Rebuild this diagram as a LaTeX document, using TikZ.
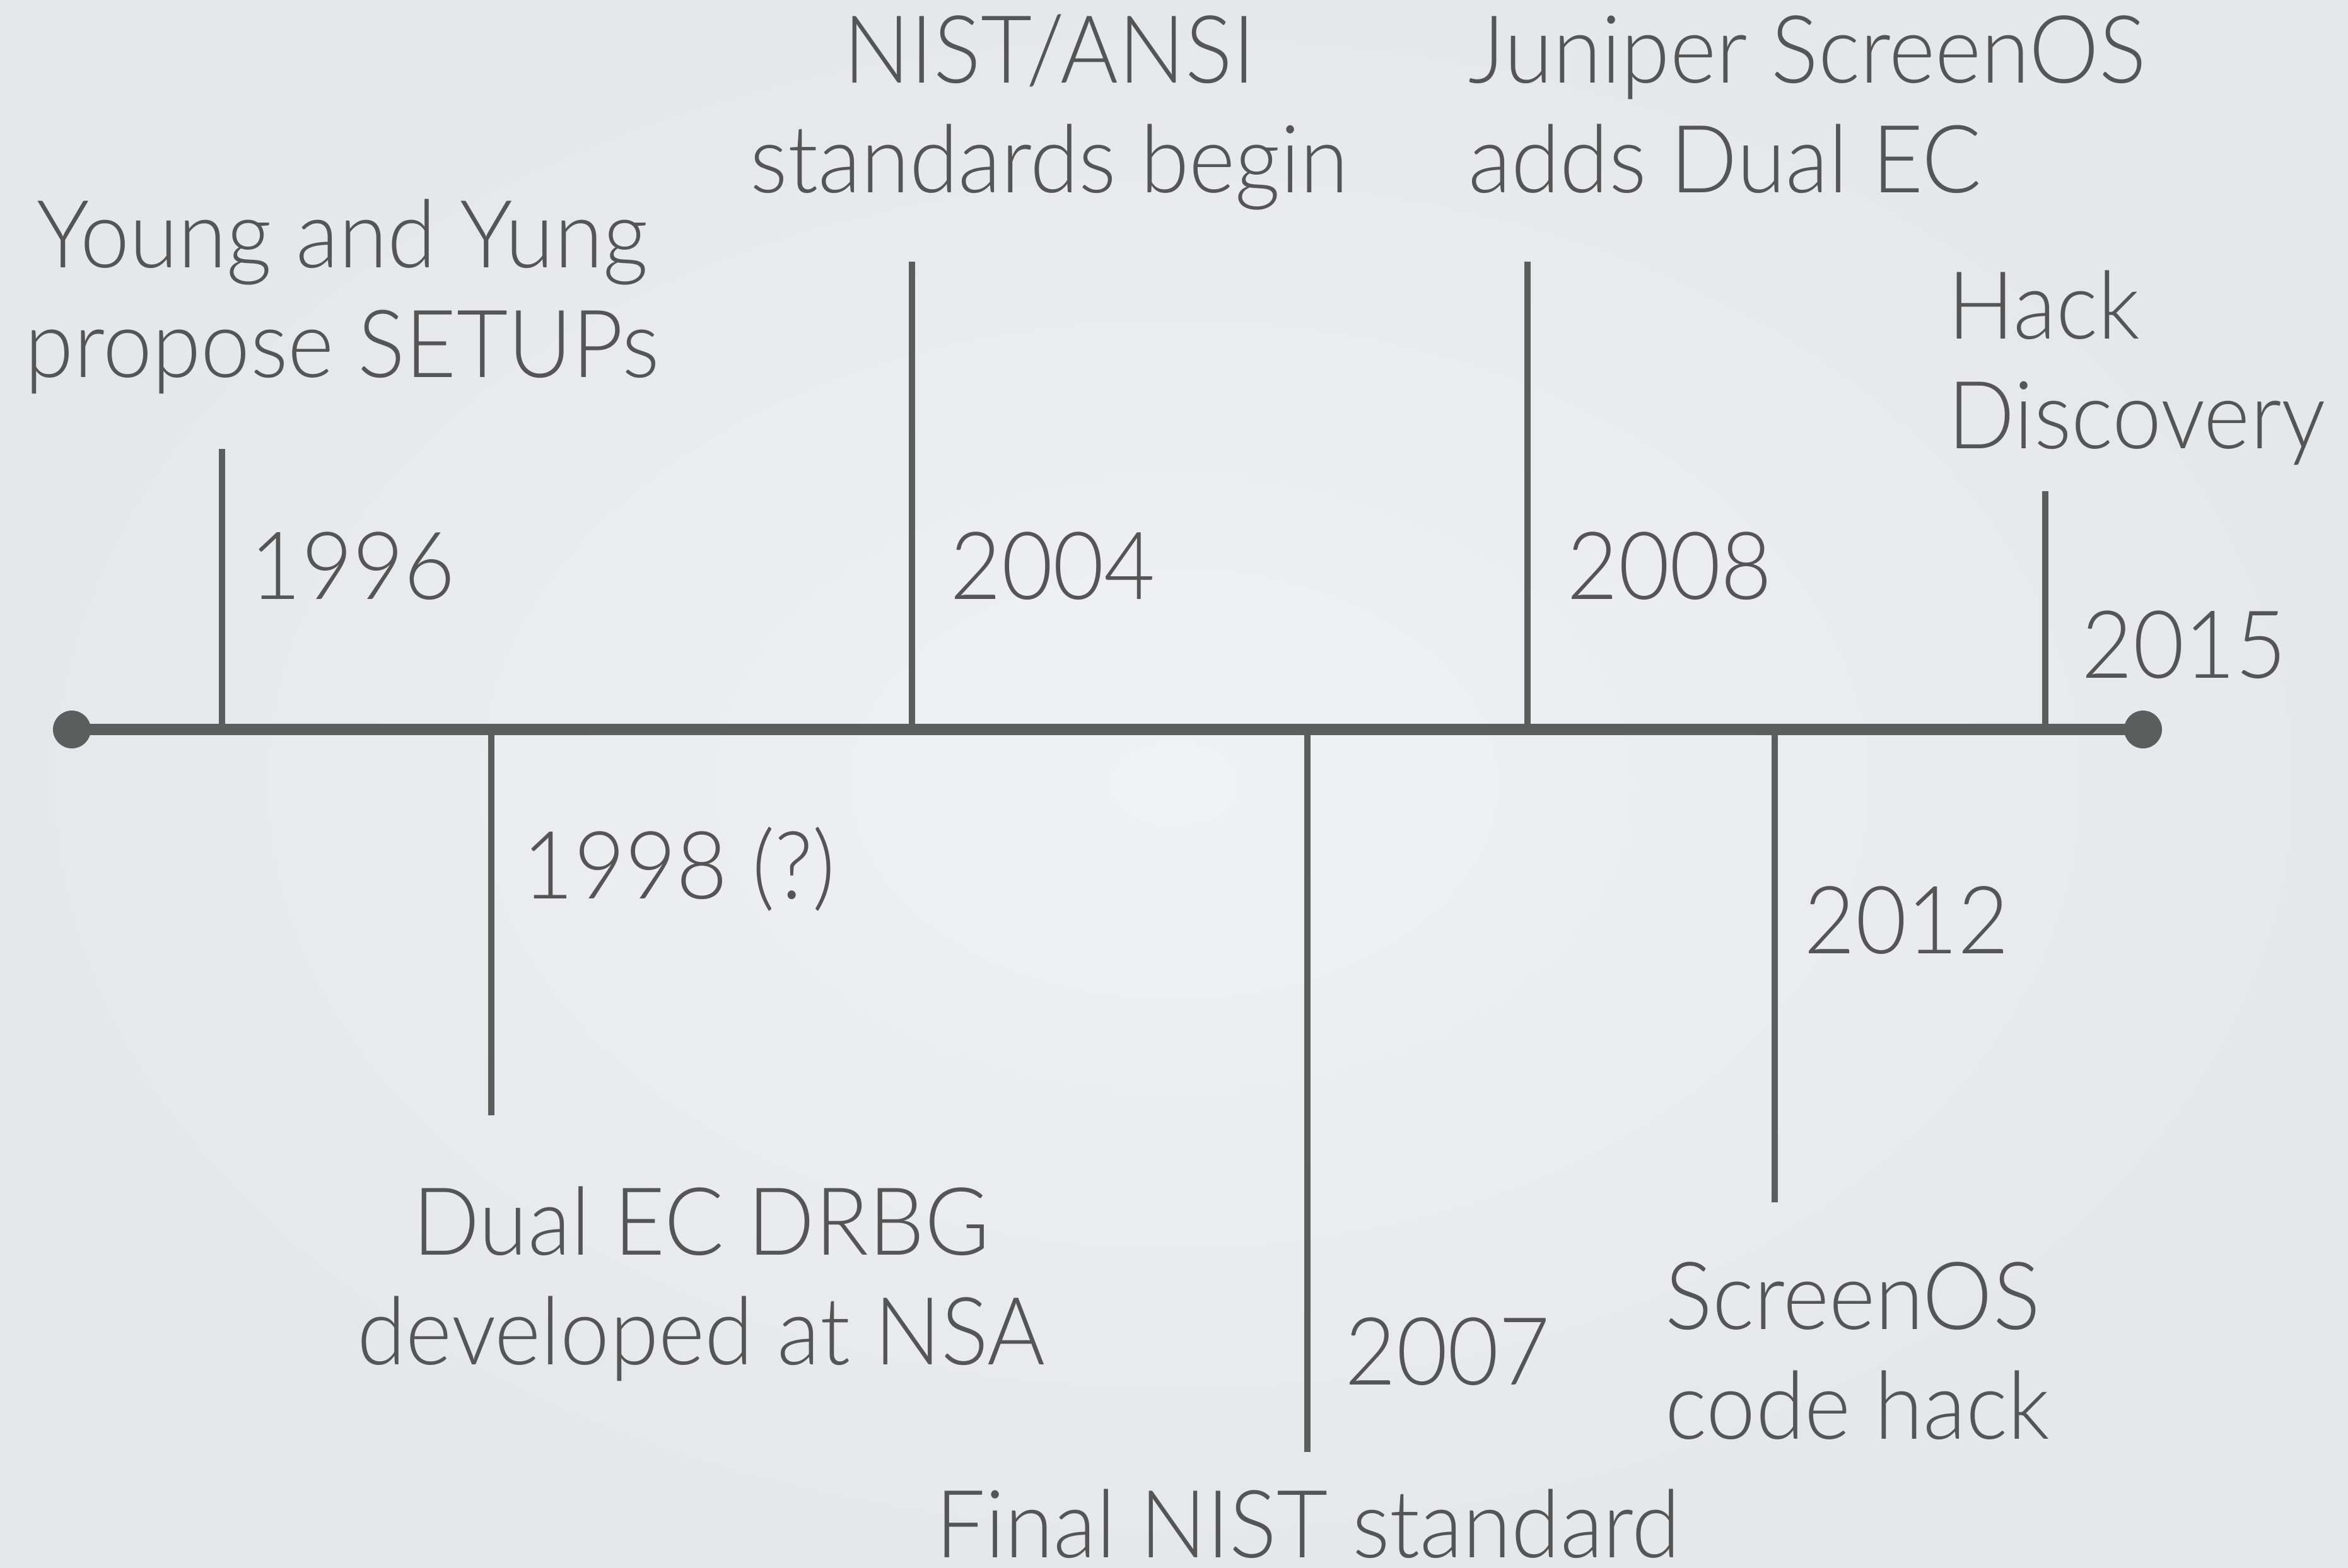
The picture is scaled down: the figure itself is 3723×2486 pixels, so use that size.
\documentclass[tikz,border=0pt]{standalone}
\usepackage{fontspec}
\IfFontExistsTF{Lato Light}{\setmainfont{Lato Light}[FakeStretch=0.94]}{\setmainfont{Lato}[FakeStretch=0.94]}
\definecolor{txtc}{HTML}{555555}
\definecolor{linec}{HTML}{5A5E5D}
\definecolor{bgin}{HTML}{F0F1F4}
\definecolor{bgout}{HTML}{E5E8EB}
\newcommand{\tstrut}{\rule{0pt}{40pt}}
\tikzset{
  lbl/.style={text=txtc, inner sep=0pt, font=\fontsize{37.3}{43.5}\selectfont},
  axis/.style={draw=linec, line width=4.5pt},
  tick/.style={draw=linec, line width=2.5pt},
  enddot/.style={circle, fill=linec, minimum size=60*0.25pt, inner sep=0pt}
}
\begin{document}
\begin{tikzpicture}[x=0.25pt, y=-0.25pt]
\shade[inner color=bgin, outer color=bgout] (0,0) rectangle (3723,2486);
\useasboundingbox (0,0) rectangle (3723,2486);

% axis
\node[enddot] (dL) at (114,1157) {};
\node[enddot] (dR) at (3398,1157) {};
\draw[axis] (dL.center) -- (dR.center);

% tick anchors on the axis
\coordinate (a1996) at (352,1157);
\coordinate (a1998) at (779,1157);
\coordinate (a2004) at (1446,1157);
\coordinate (a2007) at (2073,1157);
\coordinate (a2008) at (2422,1157);
\coordinate (a2012) at (2814,1157);
\coordinate (a2015) at (3243,1157);
% tick ends
\coordinate (e1996) at (352,712);
\coordinate (e1998) at (779,1769);
\coordinate (e2004) at (1446,415);
\coordinate (e2007) at (2073,2303);
\coordinate (e2008) at (2422,415);
\coordinate (e2012) at (2814,1907);
\coordinate (e2015) at (3243,779);

\draw[tick] (a1996) -- (e1996);
\draw[tick] (a1998) -- (e1998);
\draw[tick] (a2004) -- (e2004);
\draw[tick] (a2007) -- (e2007);
\draw[tick] (a2008) -- (e2008);
\draw[tick] (a2012) -- (e2012);
\draw[tick] (a2015) -- (e2015);

% labels above
\node[lbl, align=center, anchor=north] (tyy) at (543,264) {\tstrut Young and Yung\\propose SETUPs};
\node[lbl, anchor=base west] (t1996) at (396,950) {1996};
\node[lbl, align=center, anchor=north] (tnist) at (1664,-29) {\tstrut NIST/ANSI\\standards begin};
\node[lbl, anchor=base west] (t2004) at (1506,950) {2004};
\node[lbl, align=left, anchor=north west] (tjun) at (2328,-29) {\tstrut Juniper ScreenOS\\adds Dual EC};
\node[lbl, anchor=base west] (t2008) at (2484,950) {2008};
\node[lbl, align=left, anchor=north west] (thack) at (3088,377) {\tstrut Hack\\Discovery};
\node[lbl, anchor=base west] (t2015) at (3300,1075) {2015};

% labels below
\node[lbl, anchor=base west] (t1998) at (828,1425) {1998 (?)};
\node[lbl, align=center, anchor=north] (tdual) at (1112,1830) {\tstrut Dual EC DRBG\\developed at NSA};
\node[lbl, anchor=base west] (t2007) at (2132,2196) {2007};
\node[lbl, anchor=base] (tfinal) at (2074,2470) {Final NIST standard};
\node[lbl, anchor=base west] (t2012) at (2860,1512) {2012};
\node[lbl, align=left, anchor=north west] (tscr) at (2640,1948) {\tstrut ScreenOS\\code hack};
\end{tikzpicture}
\end{document}
